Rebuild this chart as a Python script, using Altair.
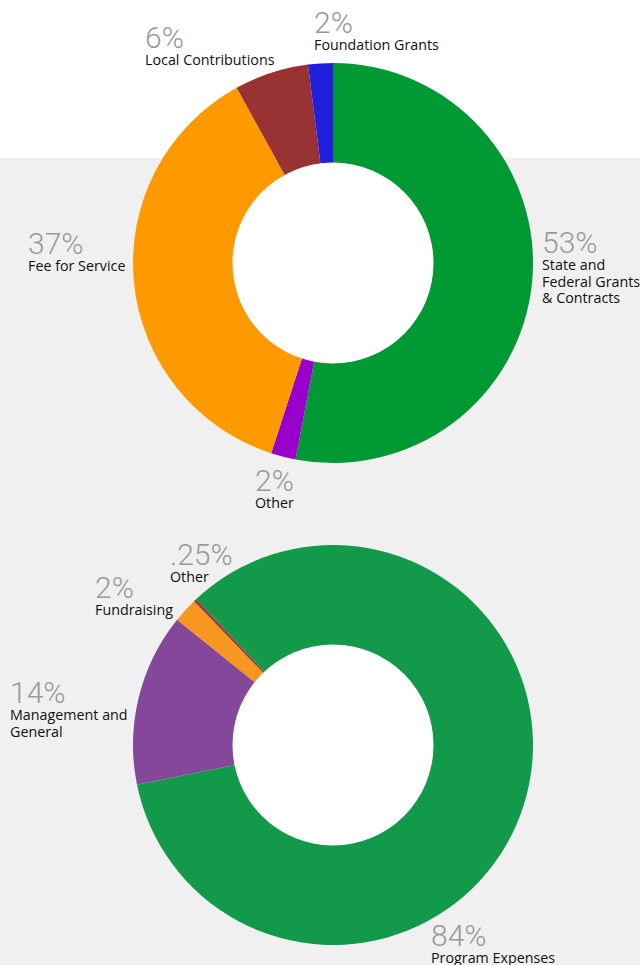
import math
import altair as alt
import pandas as pd

# ---- data ----
inc_names = ["State and\nFederal Grants\n& Contracts", "Other", "Fee for Service",
             "Local Contributions", "Foundation Grants"]
inc_values = [53, 2, 37, 6, 2]
inc_labels = ["53%", "2%", "37%", "6%", "2%"]
inc_colors = ["#009933", "#9900cc", "#ff9900", "#993333", "#2121dd"]

exp_names = ["Management and\nGeneral", "Fundraising", "Other", "Program Expenses"]
exp_values = [14, 2, 0.25, 84]
exp_labels = ["14%", "2%", ".25%", "84%"]
exp_colors = ["#84479a", "#f7971f", "#9e3a3a", "#12994a"]

# ---- layout (label anchors: left x, baseline y of percent text) ----
W, H = 640, 965
C1 = (333, 263)
C2 = (333, 745)
R_OUT, R_IN = 200, 100
START2 = math.radians(258.5)
inc_anchor_x = [542, 255, 28, 145, 314]
inc_anchor_y = [253, 491, 254, 48, 33]
exp_anchor_x = [10, 95, 170, 431]
exp_anchor_y = [703, 598, 565, 946]
NAME_GAP = 17

PCT_FONT = "Roboto"
NAME_FONT = "Open Sans"


def table(names, values, labels, colors, ax, ay):
    return pd.DataFrame({
        "name": names, "value": values, "label": labels, "color": colors,
        "idx": list(range(len(names))), "ax": ax, "ay": ay,
    })


inc = table(inc_names, inc_values, inc_labels, inc_colors, inc_anchor_x, inc_anchor_y)
exp = table(exp_names, exp_values, exp_labels, exp_colors, exp_anchor_x, exp_anchor_y)

bg = alt.Chart(alt.Data(values=[{}])).mark_rect(color="#f0f0f0").encode(
    x=alt.value(0), x2=alt.value(W), y=alt.value(158), y2=alt.value(H)
)


def donut(df, center, start):
    arc = alt.Chart(df).mark_arc(innerRadius=R_IN, outerRadius=R_OUT).encode(
        theta=alt.Theta("value:Q", stack=True,
                        scale=alt.Scale(range=[start, start + 2 * math.pi])),
        order=alt.Order("idx:Q"),
        color=alt.Color("color:N", scale=None),
        x=alt.value(center[0]), y=alt.value(center[1]),
    )
    return arc


def hole(center):
    # Vega circle symbol: radius = sqrt(size) / 2
    return alt.Chart(alt.Data(values=[{}])).mark_circle(
        color="white", opacity=1, size=(2 * R_IN + 1) ** 2
    ).encode(x=alt.value(center[0]), y=alt.value(center[1]))


def labels(df):
    pct = alt.Chart(df).mark_text(
        align="left", baseline="alphabetic", font=PCT_FONT, fontSize=30,
        fontWeight=300, color="#999999"
    ).encode(
        x=alt.X("ax:Q", scale=None), y=alt.Y("ay:Q", scale=None), text="label:N"
    )
    nm = alt.Chart(df).transform_calculate(
        lines="split(datum.name, '\\n')", ny=f"datum.ay + {NAME_GAP}"
    ).mark_text(
        align="left", baseline="alphabetic", font=NAME_FONT, fontSize=14.3,
        lineHeight=16.7, color="#111111"
    ).encode(
        x=alt.X("ax:Q", scale=None), y=alt.Y("ny:Q", scale=None), text="lines:N"
    )
    return pct + nm


d1 = donut(inc, C1, 0)
d2 = donut(exp, C2, START2)

chart = alt.layer(
    bg, d1, d2, hole(C1), hole(C2), labels(inc), labels(exp)
).resolve_scale(theta="independent").properties(
    width=W, height=H, padding=0, autosize=alt.AutoSizeParams(type="none"),
    background="white"
).configure_view(stroke=None)

chart.save("out.html", embed_options={"renderer": "svg", "actions": False})
